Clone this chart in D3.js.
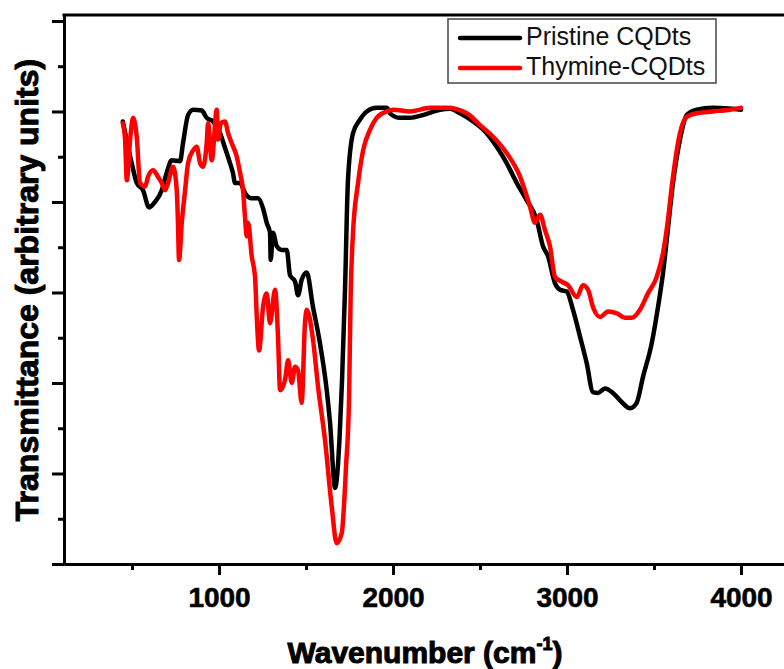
<!DOCTYPE html>
<html>
<head>
<meta charset="utf-8">
<script src="https://cdn.jsdelivr.net/npm/d3@7"></script>
<style>
  body { margin: 0; background: #fff; }
  svg { display: block; }
</style>
</head>
<body>
<div id="chart"></div>
<script>
// spectra (wavenumber in cm-1, transmittance in arbitrary units)
const pristineWn = [447, 498, 527, 563, 598, 632, 671, 699, 728, 776, 793, 822, 851, 901, 929, 966, 1006, 1034, 1063, 1080,
  1092, 1121, 1149, 1188, 1224, 1253, 1274, 1293, 1297, 1310, 1332, 1360, 1389, 1408, 1437, 1454, 1475, 1504, 1540, 1580,
  1619, 1638, 1667, 1692, 1707, 1724, 1741, 1770, 1810, 1849, 1906, 1964, 1983, 2040, 2098, 2172, 2270, 2328, 2385, 2460,
  2538, 2596, 2653, 2711, 2768, 2826, 2862, 2891, 2931, 2960, 2998, 3034, 3075, 3113, 3149, 3178, 3218, 3264, 3314, 3362,
  3400, 3437, 3487, 3523, 3552, 3573, 3609, 3649, 3688, 3745, 3839, 4000];
const pristineT = [88.9, 84.3, 82.1, 81.3, 79.4, 80.0, 81.3, 83.2, 84.6, 84.5, 86.5, 89.6, 90.2, 90.1, 89.3, 88.9, 87.6, 86.0, 84.3, 83.2,
  82.1, 82.1, 81.0, 80.4, 80.4, 79.3, 77.7, 76.6, 73.6, 76.6, 75.1, 74.7, 74.7, 71.9, 71.2, 69.7, 71.4, 72.2, 68.4, 64.4,
  59.2, 55.6, 48.4, 53.7, 60.3, 70.3, 82.4, 87.6, 89.1, 90.0, 90.4, 90.4, 89.8, 89.3, 89.3, 89.6, 90.2, 90.3, 89.8, 88.9,
  87.6, 86.1, 84.3, 82.1, 80.2, 78.0, 75.1, 74.0, 71.0, 70.3, 70.1, 68.1, 65.1, 62.2, 59.0, 58.9, 59.4, 58.9, 57.9, 57.2,
  57.8, 60.7, 64.4, 68.4, 72.2, 75.8, 82.1, 86.9, 89.6, 90.2, 90.4, 90.2];

const thymineWn = [447, 460, 470, 489, 506, 527, 546, 575, 592, 621, 649, 671, 690, 707, 736, 757, 764, 770, 786, 805,
  822, 851, 872, 891, 908, 929, 937, 958, 987, 994, 1010, 1034, 1052, 1073, 1102, 1121, 1138, 1149, 1159, 1167,
  1188, 1207, 1217, 1230, 1253, 1274, 1293, 1322, 1339, 1351, 1379, 1397, 1418, 1437, 1454, 1475, 1494, 1504, 1540, 1569,
  1609, 1648, 1676, 1705, 1730, 1747, 1756, 1770, 1799, 1828, 1868, 1906, 1964, 2000, 2098, 2213, 2309, 2424, 2500, 2575,
  2653, 2730, 2787, 2816, 2845, 2873, 2902, 2931, 2969, 3006, 3056, 3092, 3121, 3149, 3190, 3236, 3286, 3333, 3372, 3419,
  3465, 3515, 3552, 3580, 3602, 3649, 3688, 3745, 3839, 3937, 4000];
const thymineT = [88.7, 86.9, 82.4, 86.9, 89.3, 87.2, 82.1, 81.7, 82.8, 83.5, 82.8, 82.1, 81.3, 82.1, 83.9, 81.3, 77.7, 73.6, 77.7, 81.3,
  84.3, 85.7, 86.1, 84.3, 83.9, 86.5, 88.7, 84.6, 90.2, 86.9, 88.7, 88.9, 87.6, 86.5, 85.0, 83.2, 81.3, 78.4, 76.2, 77.7,
  74.0, 71.7, 67.3, 63.6, 68.4, 69.9, 66.6, 70.3, 65.1, 59.2, 60.3, 62.5, 60.0, 61.8, 61.4, 57.8, 66.6, 68.1, 64.8, 59.6,
  53.7, 46.3, 42.3, 43.4, 50.8, 58.1, 69.2, 76.6, 82.1, 85.7, 88.0, 89.3, 90.0, 90.2, 90.0, 90.4, 90.4, 89.8, 88.5, 87.2,
  85.4, 82.8, 79.5, 77.7, 78.6, 76.9, 75.1, 71.7, 71.2, 70.8, 69.5, 70.8, 70.3, 68.4, 67.3, 67.9, 67.7, 67.2, 67.2, 68.1,
  69.9, 71.7, 74.4, 78.0, 81.7, 87.6, 89.4, 89.8, 90.0, 90.2, 90.4];

const seriesNames = ["Pristine CQDts", "Thymine-CQDts"];
const seriesColors = ["#000000", "#ff0000"];

const xMajorTicks = [1000, 2000, 3000, 4000];
const xMinorTicks = [500, 1500, 2500, 3500];
const yMajorTicks = [40, 50, 60, 70, 80, 90, 100];
const yMinorTicks = [45, 55, 65, 75, 85, 95];

const width = 784, height = 669;
const margin = { top: 15, right: 0, bottom: 105, left: 64 };

const svg = d3.select("#chart").append("svg")
  .attr("width", width)
  .attr("height", height)
  .attr("font-family", "'Liberation Sans', Arial, sans-serif");

const x = d3.scaleLinear().domain([109, 4247]).range([margin.left, width - margin.right]);
const y = d3.scaleLinear().domain([40, 100.66]).range([height - margin.bottom, margin.top]);

const series = [
  { name: seriesNames[0], color: seriesColors[0], values: pristineWn.map((w, i) => [w, pristineT[i]]) },
  { name: seriesNames[1], color: seriesColors[1], values: thymineWn.map((w, i) => [w, thymineT[i]]) }
];

// curves
const line = d3.line()
  .x(d => x(d[0]))
  .y(d => y(d[1]))
  .curve(d3.curveMonotoneX);

svg.append("g")
  .selectAll("path")
  .data(series)
  .join("path")
  .attr("d", d => line(d.values))
  .attr("fill", "none")
  .attr("stroke", d => d.color)
  .attr("stroke-width", 4.5)
  .attr("stroke-linejoin", "round")
  .attr("stroke-linecap", "round");

// top frame line
svg.append("line")
  .attr("x1", margin.left - 1.5).attr("x2", width)
  .attr("y1", margin.top).attr("y2", margin.top)
  .attr("stroke", "#000").attr("stroke-width", 3);

// x axis
const xAxisG = svg.append("g")
  .attr("transform", `translate(0,${height - margin.bottom})`);
xAxisG.append("g")
  .call(d3.axisBottom(x).tickValues(xMinorTicks).tickSize(6).tickSizeOuter(0).tickFormat(""));
xAxisG.append("g")
  .call(d3.axisBottom(x).tickValues(xMajorTicks).tickSize(11).tickSizeOuter(0).tickFormat(d3.format("d")));
xAxisG.selectAll(".domain").attr("stroke-width", 3);
xAxisG.selectAll(".tick line").attr("stroke-width", 3);
xAxisG.selectAll(".tick text")
  .attr("font-size", 28)
  .attr("font-weight", "bold")
  .attr("fill", "#000")
  .attr("stroke", "#000")
  .attr("stroke-width", 0.6)
  .attr("dy", null)
  .attr("y", 43);

// y axis (no labels)
const yAxisG = svg.append("g")
  .attr("transform", `translate(${margin.left},0)`);
yAxisG.append("g")
  .call(d3.axisLeft(y).tickValues(yMinorTicks).tickSize(6).tickSizeOuter(0).tickFormat(""));
yAxisG.append("g")
  .call(d3.axisLeft(y).tickValues(yMajorTicks).tickSize(12).tickSizeOuter(0).tickFormat(""));
yAxisG.selectAll(".domain").attr("stroke-width", 3);
yAxisG.selectAll(".tick line").attr("stroke-width", 3);

// axis titles
const xTitle = svg.append("text")
  .attr("x", 425)
  .attr("y", 663)
  .attr("text-anchor", "middle")
  .attr("font-size", 30)
  .attr("font-weight", "bold")
  .attr("stroke", "#000")
  .attr("stroke-width", 1)
  .attr("fill", "#000");
xTitle.append("tspan").text("Wavenumber (cm");
xTitle.append("tspan").attr("font-size", 18).attr("dy", -13).text("-1");
xTitle.append("tspan").attr("dy", 13).text(")");

svg.append("text")
  .attr("transform", "translate(38,290) rotate(-90)")
  .attr("text-anchor", "middle")
  .attr("font-size", 32)
  .attr("font-weight", "bold")
  .attr("stroke", "#000")
  .attr("stroke-width", 1)
  .attr("fill", "#000")
  .text("Transmittance (arbitrary units)");

// legend
const legend = svg.append("g").attr("transform", "translate(448,19)");
legend.append("rect")
  .attr("width", 268).attr("height", 64)
  .attr("fill", "#fff")
  .attr("stroke", "#444")
  .attr("stroke-width", 1.5);
const item = legend.selectAll("g.item")
  .data(series)
  .join("g")
  .attr("class", "item")
  .attr("transform", (d, i) => `translate(0,${19 + i * 30})`);
item.append("line")
  .attr("x1", 12).attr("x2", 72)
  .attr("stroke", d => d.color)
  .attr("stroke-width", 4.5)
  .attr("stroke-linecap", "round");
item.append("text")
  .attr("x", 78)
  .attr("y", 7)
  .attr("font-size", 25)
  .attr("fill", "#111")
  .text(d => d.name);
</script>
</body>
</html>
